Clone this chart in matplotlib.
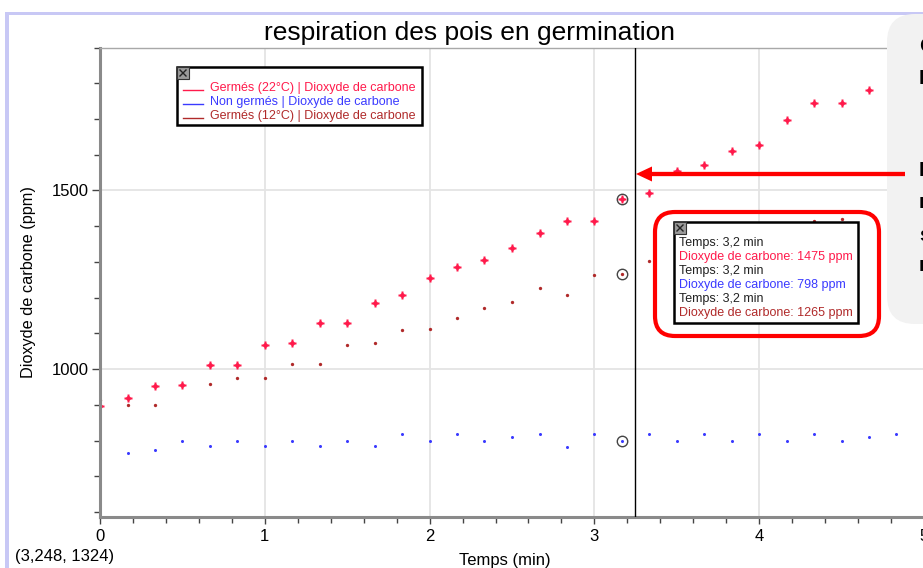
"""Respiration des pois en germination: CO2 (ppm) vs temps, Logger Pro style capture."""

import matplotlib

matplotlib.use("Agg")
import matplotlib.pyplot as plt
import numpy as np
from matplotlib.lines import Line2D
from matplotlib.patches import FancyArrow, FancyBboxPatch, Rectangle
from matplotlib.ticker import MultipleLocator

plt.rcParams["font.family"] = ["Liberation Sans", "DejaVu Sans"]

W, H = 923, 568

# one reading every 10 s
time_min = [0.0, 0.167, 0.333, 0.5, 0.667, 0.833, 1.0, 1.167, 1.333, 1.5,
            1.667, 1.833, 2.0, 2.167, 2.333, 2.5, 2.667, 2.833, 3.0, 3.167,
            3.333, 3.5, 3.667, 3.833, 4.0, 4.167, 4.333, 4.5, 4.667, 4.833]
co2_germ22 = [896, 919, 953, 956, 1011, 1011, 1066, 1073, 1128, 1128,
              1186, 1206, 1255, 1285, 1304, 1339, 1382, 1415, 1415, 1475,
              1493, 1554, 1572, 1609, 1627, 1697, 1745, 1745, 1782, None]
co2_nongerm = [784, 766, 774, 798, 784, 798, 784, 798, 784, 798,
               784, 818, 798, 818, 798, 810, 818, 782, 818, 798,
               818, 798, 818, 798, 818, 798, 818, 798, 810, 818]
co2_germ12 = [913, 899, 899, None, 957, 975, 975, 1013, 1013, 1068,
              1074, 1108, 1111, 1144, 1170, 1189, 1228, 1206, 1263, 1265,
              1303, None, None, None, None, None, 1415, 1419, 1436, None]

series_labels = ["Germés (22°C) | Dioxyde de carbone",
                 "Non germés | Dioxyde de carbone",
                 "Germés (12°C) | Dioxyde de carbone"]
series_colors = ["#ff1a4b", "#3a3aff", "#b02a2a"]

cursor_t, cursor_y = 3.248, 1324
pick = 19  # examined point (circled + tooltip)
bubble_letters = ["C", "L", "I", "r", "s", "r"]


def inch(x, y):
    """screen pixel (from top-left) -> inches for fig.dpi_scale_trans"""
    return x / 100, (H - y) / 100


def close_icon(fig, tr, x, y, s=12):
    fig.add_artist(Rectangle(inch(x, y + s), s / 100, s / 100, transform=tr,
                             fc="#9a9a9a", ec="#333333", lw=0.8, zorder=6))
    for xs, ys in [((x + 3, x + s - 3), (y + 3, y + s - 3)), ((x + 3, x + s - 3), (y + s - 3, y + 3))]:
        fig.add_artist(Line2D([xs[0] / 100, xs[1] / 100], [(H - ys[0]) / 100, (H - ys[1]) / 100],
                              transform=tr, color="#222222", lw=1, zorder=7))


def main() -> None:
    fig = plt.figure(figsize=(W / 100, H / 100), dpi=100)
    tr = fig.dpi_scale_trans
    t = np.array(time_min, dtype=float)
    ys = [np.array(v, dtype=float) for v in (co2_germ22, co2_nongerm, co2_germ12)]

    ax = fig.add_axes([100 / W, (H - 517) / H, 824 / W, 469.5 / H])
    ax.set_xlim(0, 5)
    ax.set_ylim(586, 1900)
    ax.xaxis.set_major_locator(MultipleLocator(1))
    ax.xaxis.set_minor_locator(MultipleLocator(0.2))
    ax.yaxis.set_major_locator(MultipleLocator(500))
    ax.yaxis.set_minor_locator(MultipleLocator(100))
    ax.grid(True, which="major", color="#e4e4e4", lw=1.3)
    ax.set_axisbelow(True)
    ax.tick_params(which="major", direction="out", length=5, width=1, color="#444444", labelsize=12)
    ax.tick_params(axis="x", which="major", pad=3.5)
    ax.tick_params(axis="y", which="major", length=6, pad=2)
    ax.tick_params(which="minor", direction="out", length=4, width=1, color="#444444")
    for side in ("left", "bottom"):
        ax.spines[side].set_color("#8a8a8a")
        ax.spines[side].set_linewidth(2.2)
    ax.spines["top"].set_color("#a8a8a8")
    ax.spines["top"].set_linewidth(1)
    ax.spines["right"].set_visible(False)

    ax.plot(t, ys[1], ls="none", marker="o", ms=2.2, color=series_colors[1], mec="none")
    ax.plot(t, ys[2], ls="none", marker="o", ms=2.4, color=series_colors[2], mec="none")
    ax.plot(t, ys[0], ls="none", marker="P", ms=5.2, color=series_colors[0], mec="none")
    ax.plot(t, ys[0], ls="none", marker="o", ms=3.4, color=series_colors[0], mec="none")
    for y in ys:
        ax.plot(t[pick], y[pick], ls="none", marker="o", ms=7.5, mfc="none", mec="#444444", mew=1)
    ax.axvline(cursor_t, color="black", lw=1, zorder=5)

    fig.text(470 / W, 1 - 33 / H, "respiration des pois en germination", ha="center", va="center", fontsize=19)
    fig.text(28.5 / W, 1 - 282 / H, "Dioxyde de carbone (ppm)", rotation=90, ha="center", va="center", fontsize=11.7)
    fig.text(505 / W, 1 - 561 / H, "Temps (min)", ha="center", va="center", fontsize=12)
    coords = f"({cursor_t:.3f}".replace(".", ",") + f", {cursor_y})"
    fig.text(15 / W, 1 - 557 / H, coords, ha="left", va="center", fontsize=12)

    # lavender window frame
    fig.add_artist(Rectangle(inch(5, H), 4 / 100, (H - 12) / 100, transform=tr, fc="#c8c8f5", ec="none", zorder=3))
    fig.add_artist(Rectangle(inch(5, 15), (W - 5) / 100, 3 / 100, transform=tr, fc="#c8c8f5", ec="none", zorder=3))

    # legend box
    fig.add_artist(Rectangle(inch(177, 125), 245 / 100, 58 / 100, transform=tr, fc="white", ec="black", lw=1.8, zorder=5))
    close_icon(fig, tr, 177, 67)
    for i, (lab, col) in enumerate(zip(series_labels, series_colors)):
        yl = 89.5 + 14 * i
        fig.add_artist(Line2D([1.83, 2.03], [(H - yl) / 100] * 2, transform=tr, color=col, lw=1, zorder=6))
        fig.text(210 / W, 1 - (yl - 1.5) / H, lab, color=col, fontsize=9, ha="left", va="center", zorder=6)

    # gray speech bubble on the right (cropped)
    fig.add_artist(FancyBboxPatch(inch(887, 324), 1.5, 3.1, boxstyle="round,pad=0,rounding_size=0.28",
                                  transform=tr, fc="#f2f2f2", ec="none", zorder=4))
    for ch, yb in zip(bubble_letters, [46, 78, 171, 203, 235, 266]):
        fig.text(919 / W, 1 - yb / H, ch, fontsize=15, fontweight="bold", ha="left", va="center", zorder=5)

    # red arrow pointing to the cursor
    x0, y0 = inch(905, 174)
    x1, _ = inch(636, 174)
    fig.add_artist(FancyArrow(x0, y0, x1 - x0, 0, width=0.043, head_width=0.15, head_length=0.16,
                              length_includes_head=True, transform=tr, color="#ff0000", lw=0, zorder=6))

    # tooltip with examined values
    fig.add_artist(Rectangle(inch(674, 323), 184 / 100, 101 / 100, transform=tr, fc="white", ec="black", lw=1.8, zorder=5))
    close_icon(fig, tr, 674, 222)
    tstr = f"Temps: {t[pick]:.1f} min".replace(".", ",")
    lines = []
    for y, col in zip(ys, series_colors):
        lines += [(tstr, "#222222"), (f"Dioxyde de carbone: {y[pick]:.0f} ppm", col)]
    for i, (txt, col) in enumerate(lines):
        fig.text(679 / W, 1 - (243 + 14 * i) / H, txt, color=col, fontsize=9, ha="left", va="center", zorder=6)
    fig.add_artist(FancyBboxPatch(inch(655, 336), 2.24, 1.24, boxstyle="round,pad=0,rounding_size=0.2",
                                  transform=tr, fc="none", ec="#ff0000", lw=3, zorder=6))

    fig.savefig("out.png", dpi=100)


if __name__ == "__main__":
    main()
